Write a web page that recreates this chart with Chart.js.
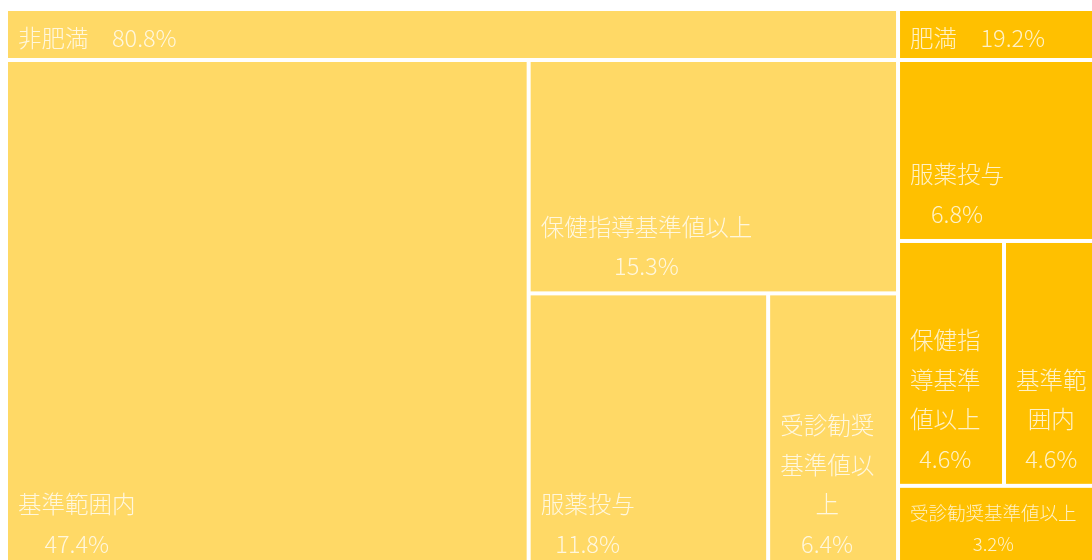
<!DOCTYPE html>
<html>
<head>
<meta charset="utf-8">
<script src="https://cdn.jsdelivr.net/npm/chart.js@4"></script>
<style>
  html, body { margin: 0; padding: 0; overflow: hidden; background: #fff; }
  #wrap { width: 1112px; height: 574px; }
</style>
</head>
<body>
<div id="wrap"><canvas id="c"></canvas></div>
<script>
const groups = ['非肥満', '肥満'];
const groupValues = [80.8, 19.2];
const groupColors = ['#FFD966', '#FFC000'];
const categories = [
  ['基準範囲内', '保健指導基準値以上', '服薬投与', '受診勧奨基準値以上'],
  ['服薬投与', '保健指導基準値以上', '基準範囲内', '受診勧奨基準値以上']
];
const values = [
  [47.4, 15.3, 11.8, 6.4],
  [6.8, 4.6, 4.6, 3.2]
];
// cells per strip, in layout order
const strips = [[1, 1, 1, 1], [1, 2, 1]];

const FONT = "'Noto Sans CJK JP', 'Noto Sans', sans-serif";
const TEXT = 'rgba(255,255,255,0.78)';
const HEADER_PX = 51;

// strip layout in data units; orientation decided on pixel aspect
function layout(rect, vals, counts, sx, sy) {
  let out = [], i = 0;
  let r = Object.assign({}, rect);
  counts.forEach(c => {
    let sub = vals.slice(i, i + c);
    let s = sub.reduce((a, b) => a + b, 0);
    let rest = vals.slice(i).reduce((a, b) => a + b, 0);
    if (r.w * sx >= r.h * sy) {
      let cw = r.w * s / rest, y = r.y;
      sub.forEach(v => { let hh = r.h * v / s; out.push({x: r.x, y: y, w: cw, h: hh}); y += hh; });
      r = {x: r.x + cw, y: r.y, w: r.w - cw, h: r.h};
    } else {
      let rh = r.h * s / rest, x = r.x;
      sub.forEach(v => { let ww = r.w * v / s; out.push({x: x, y: r.y, w: ww, h: rh}); x += ww; });
      r = {x: r.x, y: r.y + rh, w: r.w, h: r.h - rh};
    }
    i += c;
  });
  return out;
}

function wrap(ctx, text, maxW) {
  let lines = [], cur = '';
  for (const ch of text) {
    if (cur && ctx.measureText(cur + ch).width > maxW) { lines.push(cur); cur = ch; }
    else cur += ch;
  }
  if (cur) lines.push(cur);
  return lines;
}

function drawLabel(ctx, name, val, px) {
  let fs = 23.5, lines, lh;
  for (; fs >= 10; fs -= 0.5) {
    ctx.font = '300 ' + fs + 'px ' + FONT;
    lh = fs * 1.68;
    lines = wrap(ctx, name, px.w - 20).concat([val]);
    let maxW = Math.max.apply(null, lines.map(l => ctx.measureText(l).width));
    if (lines.length * lh <= px.h - 18 && maxW <= px.w - 20) break;
  }
  let bw = Math.max.apply(null, lines.map(l => ctx.measureText(l).width));
  let cx = px.x + 10 + bw / 2;
  let y = px.y + px.h - 25 - (lines.length - 1) * lh;
  ctx.fillStyle = TEXT;
  ctx.textAlign = 'center';
  ctx.textBaseline = 'middle';
  lines.forEach(l => { ctx.fillText(l, cx, y); y += lh; });
}

const treemapPlugin = {
  id: 'treemap',
  afterDatasetsDraw(chart) {
    const ctx = chart.ctx, xs = chart.scales.x, ys = chart.scales.y;
    const sx = chart.chartArea.width / 100, sy = chart.chartArea.height / 100;
    const toPx = r => {
      let x0 = xs.getPixelForValue(r.x), x1 = xs.getPixelForValue(r.x + r.w);
      let y0 = ys.getPixelForValue(r.y), y1 = ys.getPixelForValue(r.y + r.h);
      return {x: x0 + 2, y: y0 + 2, w: x1 - x0 - 4, h: y1 - y0 - 4};
    };
    const gRects = layout({x: 0, y: 0, w: 100, h: 100}, groupValues, groupValues.map(() => 1), sx, sy);
    ctx.save();
    gRects.forEach((g, gi) => {
      const hu = HEADER_PX / sy;
      // header
      let hp = toPx({x: g.x, y: g.y, w: g.w, h: hu});
      ctx.fillStyle = groupColors[gi];
      ctx.fillRect(hp.x, hp.y, hp.w, hp.h);
      ctx.font = '300 23.5px ' + FONT;
      ctx.fillStyle = TEXT;
      ctx.textAlign = 'left';
      ctx.textBaseline = 'middle';
      ctx.fillText(groups[gi] + '\u3000' + groupValues[gi].toFixed(1) + '%', hp.x + 10, hp.y + hp.h - 20);
      // cells
      const cells = layout({x: g.x, y: g.y + hu, w: g.w, h: g.h - hu}, values[gi], strips[gi], sx, sy);
      cells.forEach((c, ci) => {
        let p = toPx(c);
        ctx.fillStyle = groupColors[gi];
        ctx.fillRect(p.x, p.y, p.w, p.h);
        drawLabel(ctx, categories[gi][ci], values[gi][ci].toFixed(1) + '%', p);
      });
    });
    ctx.restore();
  }
};

new Chart(document.getElementById('c').getContext('2d'), {
  type: 'scatter',
  data: {
    datasets: groups.map((g, i) => ({ label: g, data: [], backgroundColor: groupColors[i] }))
  },
  options: {
    responsive: true,
    maintainAspectRatio: false,
    animation: false,
    layout: { padding: { left: 6, top: 9, right: 2, bottom: 3 } },
    scales: {
      x: { type: 'linear', min: 0, max: 100, display: false },
      y: { type: 'linear', min: 0, max: 100, reverse: true, display: false }
    },
    plugins: { legend: { display: false }, tooltip: { enabled: false } }
  },
  plugins: [treemapPlugin]
});
</script>
</body>
</html>
